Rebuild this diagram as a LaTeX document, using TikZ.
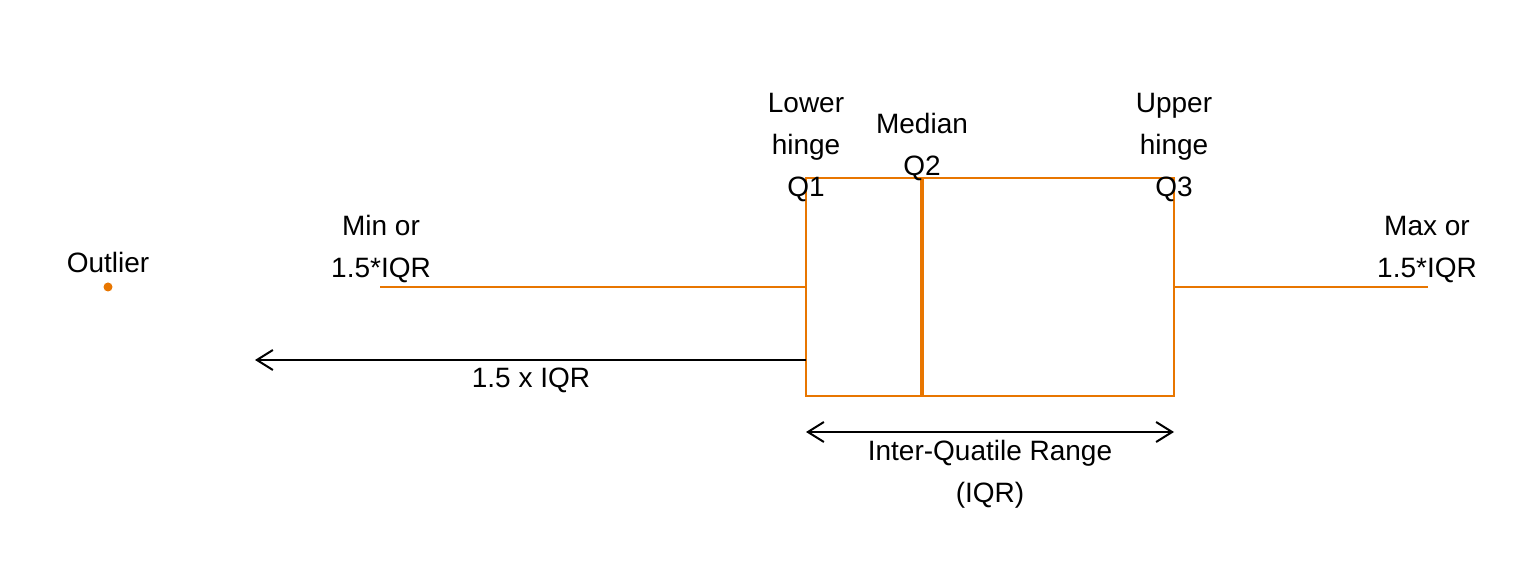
\documentclass[tikz,border=0pt]{standalone}
\usepackage{fontspec}
\setmainfont{Liberation Sans}
\usetikzlibrary{arrows.meta}
\definecolor{boxorange}{RGB}{232,118,0}
\tikzset{
  lbl/.style={inner sep=0pt, align=center, font=\fontsize{14}{21}\selectfont},
  boxline/.style={draw=boxorange, line width=1pt},
  openarrow/.style={line width=1pt, -{Straight Barb[length=8pt,width=10pt]}}
}
\begin{document}
\begin{tikzpicture}[x=0.5pt,y=0.5pt,yscale=-1,xscale=1]
\useasboundingbox (0,0) rectangle (1536,576);

% box corners and ends
\coordinate (q1top) at (806,178);
\coordinate (q1bot) at (806,396);
\coordinate (q3top) at (1174,178);
\coordinate (q3bot) at (1174,396);
\coordinate (q1mid) at (806,287);
\coordinate (q3mid) at (1174,287);
\coordinate (medtop) at (922,178);
\coordinate (medbot) at (922,396);
\coordinate (minend) at (380,287);
\coordinate (maxend) at (1428,287);

%Shape: Box
\draw [boxline] (q1top) rectangle (q3bot) ;
%Straight Lines: median
\draw [draw=boxorange, line width=2.2pt] (medtop) -- (medbot) ;
%Straight Lines: whiskers
\draw [boxline] (minend) -- (q1mid) ;
\draw [boxline] (q3mid) -- (maxend) ;
%Shape: outlier
\fill [boxorange] (108,287) circle (4.5) ;

%Arrows
\coordinate (fencefrom) at (806,360);
\coordinate (fenceto) at (255,360);
\draw [openarrow] (fencefrom) -- (fenceto) ;
\coordinate (iqrleft) at (806,432);
\coordinate (iqrright) at (1174,432);
\draw [openarrow, {Straight Barb[length=8pt,width=10pt]}-{Straight Barb[length=8pt,width=10pt]}] (iqrleft) -- (iqrright) ;

% Text Node
\node [lbl] (lowerhinge) at (806,148) {Lower\\hinge\\Q1};
% Text Node
\node [lbl] (median) at (922,147.5) {Median\\Q2};
% Text Node
\node [lbl] (upperhinge) at (1174,148) {Upper\\hinge\\Q3};
% Text Node
\node [lbl] (minlabel) at (381,249.5) {Min or\\1.5*IQR};
% Text Node
\node [lbl] (maxlabel) at (1427,249.5) {Max or\\1.5*IQR};
% Text Node
\node [lbl] (outlier) at (108,262) {Outlier};
% Text Node
\node [lbl] (fencelabel) at (531,380) {1.5 x IQR};
% Text Node
\node [lbl] (iqrlabel) at (990,474) {Inter-Quatile Range\\(IQR)};

\end{tikzpicture}
\end{document}
